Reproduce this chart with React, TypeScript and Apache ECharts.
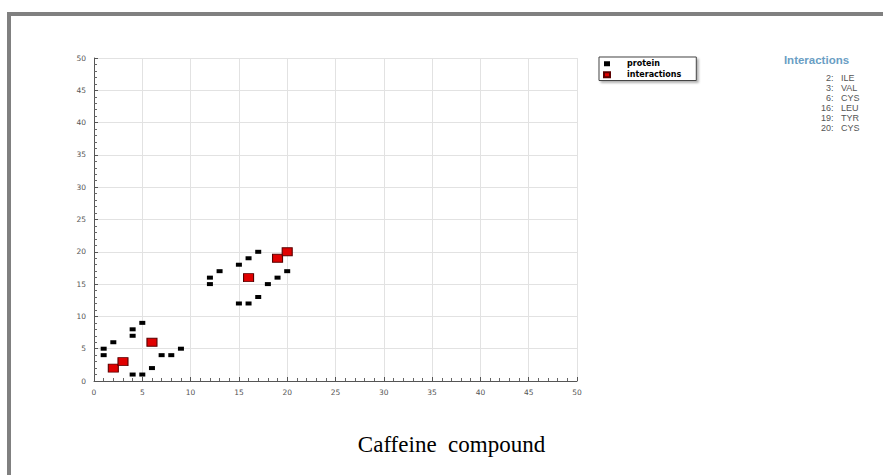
import React, { useEffect, useRef } from "react";
import * as echarts from "echarts";

// protein residue coordinates
const proteinX = [1, 1, 2, 4, 4, 5, 4, 5, 6, 7, 8, 9, 17, 16, 15, 13, 12, 12, 15, 16, 17, 18, 19, 20];
const proteinY = [5, 4, 6, 8, 7, 9, 1, 1, 2, 4, 4, 5, 20, 19, 18, 17, 16, 15, 12, 12, 13, 15, 16, 17];

// interaction residue coordinates
const interactionX = [2, 3, 6, 16, 19, 20];
const interactionY = [2, 3, 6, 16, 19, 20];

// interaction list (right panel)
const interactionIds = [2, 3, 6, 16, 19, 20];
const interactionNames = ["ILE", "VAL", "CYS", "LEU", "TYR", "CYS"];

const axisMin = 0;
const axisMax = 50;
const axisInterval = 5;
const chartTitle = "Caffeine  compound";
const panelTitle = "Interactions";
const seriesNames = ["protein", "interactions"];

export default function App() {
  const ref = useRef<HTMLDivElement>(null);

  useEffect(() => {
    if (!ref.current) return;
    const chart = echarts.init(ref.current, undefined, { renderer: "svg" });

    const axisCommon = {
      type: "value" as const,
      min: axisMin,
      max: axisMax,
      interval: axisInterval,
      axisLine: { show: true, onZero: false, lineStyle: { color: "#555", width: 1 } },
      axisTick: { show: true, inside: true, length: 4, lineStyle: { color: "#555" } },
      minorTick: { show: true, splitNumber: 5, length: 3, lineStyle: { color: "#666" } },
      axisLabel: { fontSize: 7.5, color: "#555", fontFamily: "DejaVu Sans" },
      splitLine: { show: true, lineStyle: { color: "#e2e2e2", width: 1 } },
    };

    const listTexts: any[] = [];
    interactionIds.forEach((id, i) => {
      const y = 77.5 + i * 10;
      listTexts.push({
        type: "text",
        x: 833.5,
        y,
        style: {
          text: id + ":",
          fill: "#555",
          font: "9px 'Liberation Sans', Arial, sans-serif",
          align: "right",
          verticalAlign: "middle",
        },
      });
      listTexts.push({
        type: "text",
        x: 841,
        y,
        style: {
          text: interactionNames[i],
          fill: "#555",
          font: "9px 'Liberation Sans', Arial, sans-serif",
          align: "left",
          verticalAlign: "middle",
        },
      });
    });

    chart.setOption({
      animation: false,
      backgroundColor: "#fff",
      grid: { left: 94, top: 58, width: 483, height: 323, containLabel: false, outerBoundsMode: "none" },
      xAxis: { ...axisCommon, axisLabel: { ...axisCommon.axisLabel, margin: 7 } },
      yAxis: { ...axisCommon, axisLabel: { ...axisCommon.axisLabel, margin: 8 } },
      legend: {
        data: seriesNames,
        orient: "vertical",
        left: 599,
        top: 57,
        selectedMode: false,
        icon: "rect",
        itemWidth: 6,
        itemHeight: 5,
        itemGap: 1.5,
        padding: [2, 15, 1, 4],
        backgroundColor: "#fff",
        borderColor: "#444",
        borderWidth: 1,
        borderRadius: 0,
        shadowColor: "rgba(0,0,0,0.3)",
        shadowBlur: 2,
        shadowOffsetX: 2,
        shadowOffsetY: 2,
        textStyle: {
          fontSize: 8,
          fontWeight: "bold",
          fontFamily: "'DejaVu Sans', Verdana, sans-serif",
          color: "#000",
          lineHeight: 9.5,
          padding: [0, 0, 0, 12],
        },
      },
      series: [
        {
          name: seriesNames[0],
          type: "scatter",
          symbol: "rect",
          symbolSize: [6, 4],
          itemStyle: { color: "#000", opacity: 1 },
          data: proteinX.map((x, i) => [x, proteinY[i]]),
          z: 2,
        },
        {
          name: seriesNames[1],
          type: "scatter",
          symbol: "rect",
          symbolSize: [10, 8],
          itemStyle: { color: "#e00000", borderColor: "#5a0000", borderWidth: 1, opacity: 1 },
          data: interactionX.map((x, i) => [x, interactionY[i]]),
          z: 3,
        },
      ],
      graphic: [
        { type: "rect", shape: { x: 7, y: 12, width: 876, height: 4 }, style: { fill: "#808080" }, silent: true },
        { type: "rect", shape: { x: 7, y: 12, width: 4, height: 463 }, style: { fill: "#808080" }, silent: true },
        {
          type: "text",
          x: 816.5,
          y: 59.5,
          style: {
            text: panelTitle,
            fill: "#6a9ec4",
            font: "bold 11.5px 'Liberation Sans', Arial, sans-serif",
            align: "center",
            verticalAlign: "middle",
          },
        },
        ...listTexts,
        {
          type: "text",
          x: 451.5,
          y: 444,
          style: {
            text: chartTitle,
            fill: "#000",
            font: "23px 'Liberation Serif', 'Times New Roman', serif",
            align: "center",
            verticalAlign: "middle",
          },
        },
      ],
    });

    return () => chart.dispose();
  }, []);

  return (
    <div
      ref={ref}
      style={{ position: "fixed", left: 0, top: 0, width: 883, height: 475 }}
    />
  );
}
